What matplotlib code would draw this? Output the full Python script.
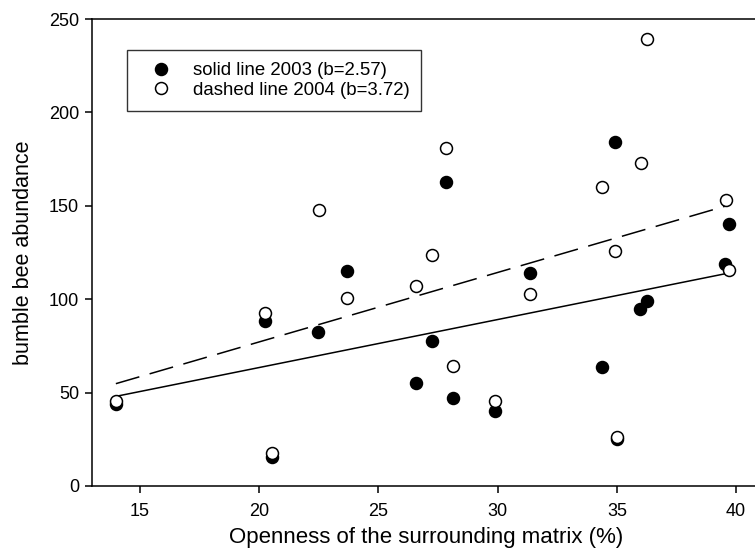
import matplotlib
matplotlib.use('Agg')
import matplotlib.pyplot as plt
import numpy as np

plt.rcParams['font.family'] = ['Liberation Sans', 'DejaVu Sans']

# openness of the surrounding matrix (%) and bumble bee abundance
x_2003 = [14.0, 20.24, 20.55, 22.48, 23.70, 26.57, 27.26, 27.85, 28.15,
          29.89, 31.37, 34.37, 34.93, 35.02, 35.98, 36.26, 39.55, 39.69]
y_2003 = [44, 88.5, 15.5, 82.5, 115, 55, 77.5, 163, 47.3,
          40.3, 113.8, 63.6, 184, 25, 94.5, 98.8, 119, 140]

x_2004 = [14.0, 20.24, 20.55, 22.51, 23.70, 26.57, 27.26, 27.85, 28.15,
          29.89, 31.37, 34.37, 34.93, 35.02, 36.0, 36.26, 39.57, 39.69]
y_2004 = [45.5, 92.5, 17.5, 147.8, 100.7, 106.8, 123.8, 181, 64.5,
          45.5, 103, 160, 125.6, 26, 173, 239.4, 153, 115.8]

# regression lines: intercept, slope, x range
fit_2003 = (12.0, 2.57, [14.0, 39.6])
fit_2004 = (2.7, 3.72, [14.0, 39.6])

labels = ['solid line 2003 (b=2.57)', 'dashed line 2004 (b=3.72)']
xticks = [15, 20, 25, 30, 35, 40]
yticks = [0, 50, 100, 150, 200, 250]

fig = plt.figure(figsize=(7.55, 5.56), dpi=100)
ax = fig.add_axes([92 / 755, 70 / 556, 668 / 755, 467 / 556])

a, b, xr = fit_2003
xr = np.array(xr)
ax.plot(xr, a + b * xr, color='black', lw=1.1, zorder=2)
a, b, xr = fit_2004
xr = np.array(xr)
ax.plot(xr, a + b * xr, color='black', lw=1.1, dashes=(16, 7), zorder=2)

ax.plot(x_2003, y_2003, 'o', ms=8.6, mfc='black', mec='black', mew=1.1,
        label=labels[0], zorder=3)
ax.plot(x_2004, y_2004, 'o', ms=8.6, mfc='white', mec='black', mew=1.1,
        label=labels[1], zorder=4)

ax.set_xlim(13, 41)
ax.set_ylim(0, 250)
ax.set_xticks(xticks)
ax.set_yticks(yticks)
ax.spines['right'].set_visible(False)
for s in ax.spines.values():
    s.set_linewidth(1.1)
ax.tick_params(axis='both', labelsize=13, length=5, width=1.1)
ax.tick_params(axis='x', pad=7.5)
ax.tick_params(axis='y', pad=4.3)

ax.set_xlabel('Openness of the surrounding matrix (%)', fontsize=16, labelpad=5)
ax.set_ylabel('bumble bee abundance', fontsize=15.5, labelpad=11)

leg = ax.legend(loc='upper left', bbox_to_anchor=(0.0524, 0.9336, 0.44, 0.0),
                mode='expand', borderaxespad=0, fontsize=13.4, frameon=True,
                fancybox=False, edgecolor='black', borderpad=0.65,
                handlelength=2.35, handletextpad=0.53, labelspacing=0.15)
leg.get_frame().set_linewidth(1.0)

fig.savefig('out.png', dpi=100)
